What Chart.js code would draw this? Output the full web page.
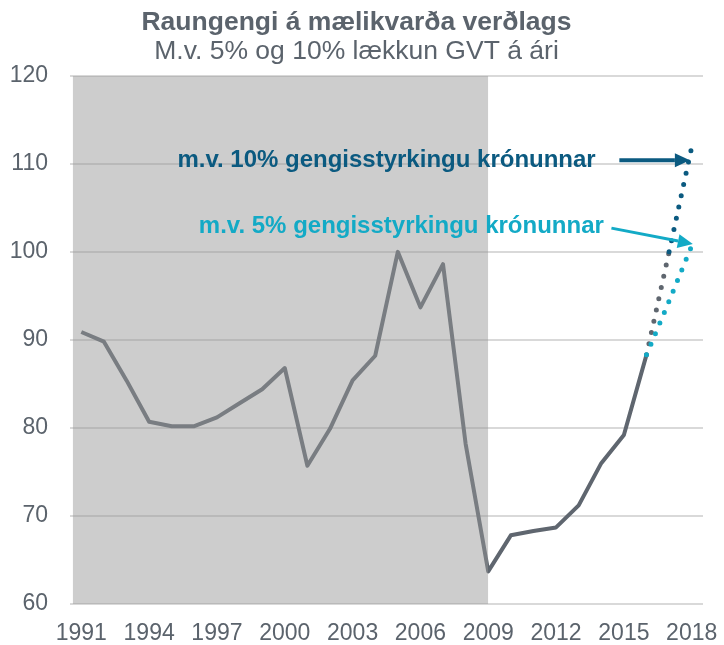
<!DOCTYPE html>
<html>
<head>
<meta charset="utf-8">
<script src="https://cdn.jsdelivr.net/npm/chart.js@4"></script>
<style>
  html, body { margin: 0; padding: 0; background: #fff; }
  #wrap { width: 724px; height: 645px; }
</style>
</head>
<body>
<div id="wrap"><canvas id="chart"></canvas></div>
<script>
// years on the x axis
const years = [1991, 1992, 1993, 1994, 1995, 1996, 1997, 1998, 1999, 2000,
  2001, 2002, 2003, 2004, 2005, 2006, 2007, 2008, 2009, 2010,
  2011, 2012, 2013, 2014, 2015, 2016];
// real exchange rate (index)
const raungengi = [90.9, 89.8, 85.4, 80.7, 80.2, 80.2, 81.2, 82.8, 84.4, 86.8,
  75.7, 79.9, 85.4, 88.2, 100.0, 93.7, 98.6, 78.2, 63.7, 67.8,
  68.3, 68.7, 71.2, 76.0, 79.2, 88.3];
// forecast scenarios 2016-2018
const spaAr = [2016, 2017, 2018];
const styrking10 = [88.3, 100.0, 111.9];
const styrking5 = [88.3, 94.4, 100.7];
// shaded period
const skygging = [1990.62, 2009];
const xTicks = [1991, 1994, 1997, 2000, 2003, 2006, 2009, 2012, 2015, 2018];
const yTicks = [60, 70, 80, 90, 100, 110, 120];

const gray = '#5f666f';
const darkBlue = '#0b5a80';
const cyan = '#13aac6';
const textGray = '#5b636c';
const fontFam = '"Liberation Sans", Arial, sans-serif';

const toXY = (xs, ys) => xs.map((x, i) => ({ x: x, y: ys[i] }));

// text + arrows, placed in data coordinates
const notes = [
  { text: 'm.v. 10% gengisstyrkingu krónunnar', x: 1995.25, y: 110.4, color: darkBlue,
    arrow: [2014.8, 110.4, 2017.92, 110.4], width: 4 },
  { text: 'm.v. 5% gengisstyrkingu krónunnar', x: 1996.2, y: 102.9, color: cyan,
    arrow: [2014.45, 102.7, 2018.05, 100.9], width: 3 }
];

const notesPlugin = {
  id: 'notes',
  beforeDatasetDraw(chart, args) {
    if (args.index === 0) {
      chart.ctx.save();
      chart.ctx.shadowColor = 'rgba(0,0,0,0.25)';
      chart.ctx.shadowBlur = 5;
    }
  },
  afterDatasetDraw(chart, args) {
    if (args.index === 0) chart.ctx.restore();
  },
  afterDatasetsDraw(chart) {
    const ctx = chart.ctx;
    const xs = chart.scales.x, ys = chart.scales.y;
    ctx.save();
    notes.forEach(n => {
      ctx.font = 'bold 24px ' + fontFam;
      ctx.fillStyle = n.color;
      ctx.textBaseline = 'middle';
      ctx.textAlign = 'left';
      ctx.fillText(n.text, xs.getPixelForValue(n.x), ys.getPixelForValue(n.y));

      const x1 = xs.getPixelForValue(n.arrow[0]), y1 = ys.getPixelForValue(n.arrow[1]);
      const x2 = xs.getPixelForValue(n.arrow[2]), y2 = ys.getPixelForValue(n.arrow[3]);
      const ang = Math.atan2(y2 - y1, x2 - x1);
      const head = 15;
      ctx.strokeStyle = n.color;
      ctx.lineWidth = n.width;
      ctx.beginPath();
      ctx.moveTo(x1, y1);
      ctx.lineTo(x2 - head * Math.cos(ang), y2 - head * Math.sin(ang));
      ctx.stroke();
      ctx.beginPath();
      ctx.moveTo(x2, y2);
      ctx.lineTo(x2 - head * Math.cos(ang) + 7 * Math.sin(ang), y2 - head * Math.sin(ang) - 7 * Math.cos(ang));
      ctx.lineTo(x2 - head * Math.cos(ang) - 7 * Math.sin(ang), y2 - head * Math.sin(ang) + 7 * Math.cos(ang));
      ctx.closePath();
      ctx.fill();
    });
    ctx.restore();
  }
};

new Chart(document.getElementById('chart'), {
  type: 'line',
  data: {
    datasets: [
      {
        // shaded period
        data: toXY(skygging, [120, 120]),
        borderWidth: 0,
        pointRadius: 0,
        backgroundColor: 'rgba(150,150,150,0.48)',
        fill: 'start',
        clip: false
      },
      {
        data: toXY(spaAr, styrking5),
        borderColor: cyan,
        borderWidth: 5,
        borderDash: [0, 11.5],
        borderCapStyle: 'round',
        pointRadius: 0,
        fill: false
      },
      {
        data: toXY(spaAr, styrking10),
        borderWidth: 5,
        borderDash: [0, 11.5],
        borderCapStyle: 'round',
        segment: {
          borderColor: c => c.p0DataIndex === 0 ? gray : darkBlue
        },
        borderColor: darkBlue,
        pointRadius: 0,
        fill: false
      },
      {
        data: toXY(years, raungengi),
        borderColor: gray,
        borderWidth: 4,
        borderJoinStyle: 'round',
        pointRadius: 0,
        tension: 0,
        fill: false
      }
    ]
  },
  options: {
    responsive: true,
    maintainAspectRatio: false,
    animation: false,
    layout: { padding: { left: 10, right: 21, top: 8, bottom: 0 } },
    plugins: {
      legend: { display: false },
      tooltip: { enabled: false },
      title: {
        display: true,
        text: 'Raungengi á mælikvarða verðlags',
        color: textGray,
        font: { family: fontFam, size: 26.5, weight: 'bold', lineHeight: 1.1 },
        padding: { top: 0, bottom: 0 }
      },
      subtitle: {
        display: true,
        text: 'M.v. 5% og 10% lækkun GVT á ári',
        color: textGray,
        font: { family: fontFam, size: 26.5, lineHeight: 1.1 },
        padding: { top: 0, bottom: 9.5 }
      }
    },
    scales: {
      x: {
        type: 'linear',
        min: 1990.5,
        max: 2018.5,
        afterBuildTicks: s => { s.ticks = xTicks.map(v => ({ value: v })); },
        afterFit: s => { s.paddingLeft = 0; s.paddingRight = 0; s.height = 41; },
        grid: { display: false, drawTicks: false },
        border: { display: false },
        ticks: {
          color: textGray,
          autoSkip: false,
          maxRotation: 0,
          padding: 18,
          font: { family: fontFam, size: 23, lineHeight: 1 },
          callback: v => String(v)
        }
      },
      y: {
        min: 60,
        max: 120,
        afterBuildTicks: s => { s.ticks = yTicks.map(v => ({ value: v })); },
        afterFit: s => { s.paddingTop = 0; s.paddingBottom = 0; s.width = 60; },
        grid: { color: '#d9d9d9', lineWidth: 2, drawTicks: false },
        border: { display: false },
        ticks: {
          color: textGray,
          padding: 22,
          font: { family: fontFam, size: 23 }
        }
      }
    }
  },
  plugins: [notesPlugin]
});
</script>
</body>
</html>
